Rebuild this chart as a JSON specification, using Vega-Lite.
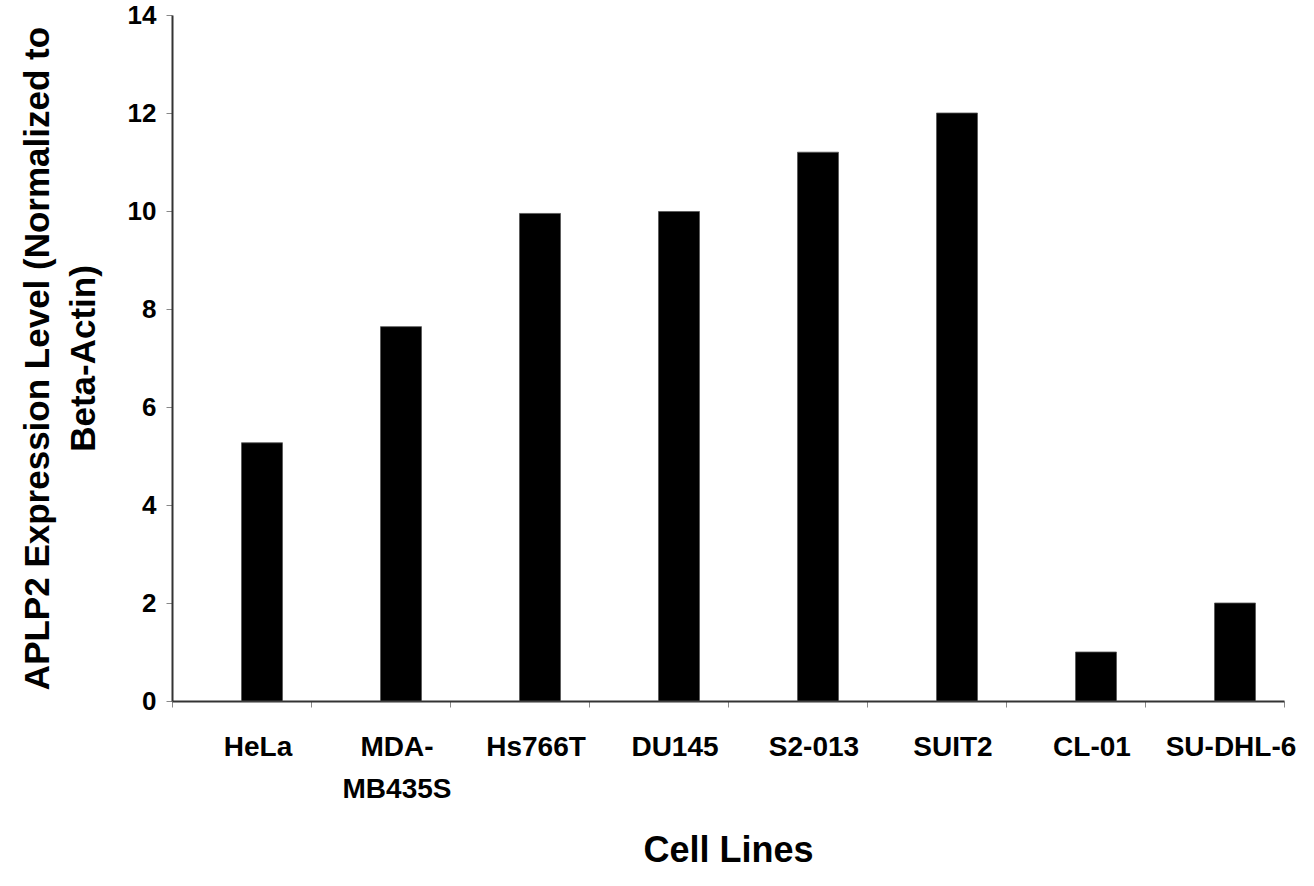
{
  "$schema": "https://vega.github.io/schema/vega-lite/v6.json",
  "autosize": "none",
  "padding": {"left": 172, "top": 15, "right": 30, "bottom": 185},
  "width": 1112,
  "height": 686,
  "background": "white",
  "config": {"view": {"stroke": null}, "font": "Liberation Sans"},
  "data": {
    "values": [
      {"cell": "HeLa", "value": 5.27},
      {"cell": "MDA-MB435S", "value": 7.64},
      {"cell": "Hs766T", "value": 9.95},
      {"cell": "DU145", "value": 9.99},
      {"cell": "S2-013", "value": 11.2},
      {"cell": "SUIT2", "value": 12.0},
      {"cell": "CL-01", "value": 1.0},
      {"cell": "SU-DHL-6", "value": 2.0}
    ]
  },
  "mark": {"type": "bar", "width": 41, "xOffset": 20.5, "color": "#000000", "stroke": "#555555", "strokeWidth": 0.8},
  "encoding": {
    "x": {
      "field": "cell",
      "type": "nominal",
      "sort": null,
      "scale": {"paddingInner": 0, "paddingOuter": 0},
      "axis": {
        "title": "Cell Lines",
        "titleFont": "Liberation Sans",
        "titleFontSize": 36,
        "titleFontWeight": "bold",
        "titleColor": "#000000",
        "titlePadding": 30,
        "labelAngle": 0,
        "labelFont": "Liberation Sans",
        "labelFontSize": 28,
        "labelFontWeight": "bold",
        "labelColor": "#000000",
        "labelPadding": 26,
        "labelOffset": 16,
        "labelLineHeight": 42,
        "labelExpr": "datum.label == 'MDA-MB435S' ? ['MDA-', 'MB435S'] : datum.label",
        "tickBand": "extent",
        "tickSize": 6,
        "tickColor": "#888888",
        "tickWidth": 1,
        "domainColor": "#333333",
        "domainWidth": 2,
        "grid": false
      }
    },
    "y": {
      "field": "value",
      "type": "quantitative",
      "scale": {"domain": [0, 14], "nice": false},
      "axis": {
        "title": ["APLP2 Expression Level (Normalized to", "Beta-Actin)"],
        "titleFont": "Liberation Sans",
        "titleFontSize": 35,
        "titleFontWeight": "bold",
        "titleColor": "#000000",
        "titleLineHeight": 46,
        "titlePadding": 26,
        "values": [0, 2, 4, 6, 8, 10, 12, 14],
        "format": "d",
        "labelFont": "Liberation Sans",
        "labelFontSize": 26,
        "labelFontWeight": "bold",
        "labelColor": "#000000",
        "labelPadding": 10,
        "tickSize": 6,
        "tickColor": "#888888",
        "tickWidth": 1,
        "domainColor": "#333333",
        "domainWidth": 2,
        "grid": false
      }
    }
  }
}
